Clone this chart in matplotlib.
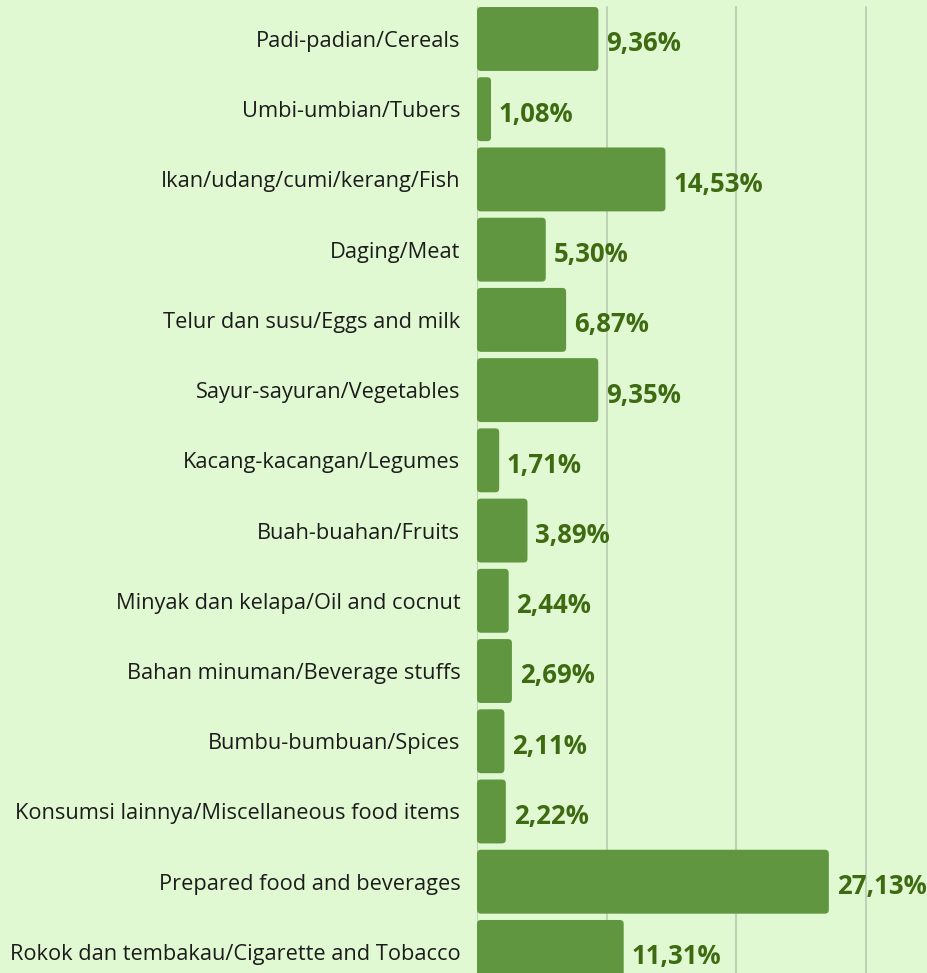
import matplotlib.pyplot as plt
from matplotlib.patches import FancyBboxPatch

# data
categories = [
    'Padi-padian/Cereals',
    'Umbi-umbian/Tubers',
    'Ikan/udang/cumi/kerang/Fish',
    'Daging/Meat',
    'Telur dan susu/Eggs and milk',
    'Sayur-sayuran/Vegetables',
    'Kacang-kacangan/Legumes',
    'Buah-buahan/Fruits',
    'Minyak dan kelapa/Oil and cocnut',
    'Bahan minuman/Beverage stuffs',
    'Bumbu-bumbuan/Spices',
    'Konsumsi lainnya/Miscellaneous food items',
    'Prepared food and beverages',
    'Rokok dan tembakau/Cigarette and Tobacco',
]
values = [9.36, 1.08, 14.53, 5.30, 6.87, 9.35, 1.71, 3.89, 2.44, 2.69, 2.11, 2.22, 27.13, 11.31]
grid_ticks = [10, 20, 30]

bg = '#e1f9d2'
bar_color = '#5f963f'
label_color = '#3e6a12'

plt.rcParams['font.family'] = ['Open Sans', 'DejaVu Sans']

fig = plt.figure(figsize=(9.27, 9.73), dpi=100)
fig.patch.set_facecolor(bg)
ax = fig.add_axes([0.5146, 0, 0.4854, 1])
ax.set_facecolor(bg)

y = list(range(len(categories)))
bars = ax.barh(y, values, height=0.91, color=bar_color)

ax.set_xlim(0, 34.7)
ax.set_ylim(13.3, -0.555)

# rounded bars
aspect = (34.7 / 450) / (13.855 / 973)
for b in bars:
    b.set_visible(False)
    p = FancyBboxPatch((b.get_x(), b.get_y()), b.get_width(), b.get_height(),
                       boxstyle='round,pad=0,rounding_size=0.3',
                       mutation_aspect=1 / aspect,
                       facecolor=bar_color, edgecolor='none', zorder=3)
    ax.add_patch(p)

# gridlines
for t in grid_ticks:
    ax.axvline(t, ymax=0.993, color='#b9c9b1', lw=1.2, zorder=1)
ax.axvline(0, ymax=0.993, color='#b9c9b1', lw=1.2, zorder=1)

ax.set_yticks(y)
ax.set_yticklabels(categories, fontsize=15.7, color='#1c1c1c')
ax.tick_params(axis='y', length=0, pad=12)
ax.set_xticks([])
for s in ax.spines.values():
    s.set_visible(False)

# value labels
for yi, v in zip(y, values):
    ax.text(v + 0.6, yi + 0.07, f'{v:.2f}%'.replace('.', ','), va='center', ha='left',
            fontsize=18.5, fontweight='bold', color=label_color, zorder=4)

fig.savefig('out.png', dpi=100, facecolor=bg)
